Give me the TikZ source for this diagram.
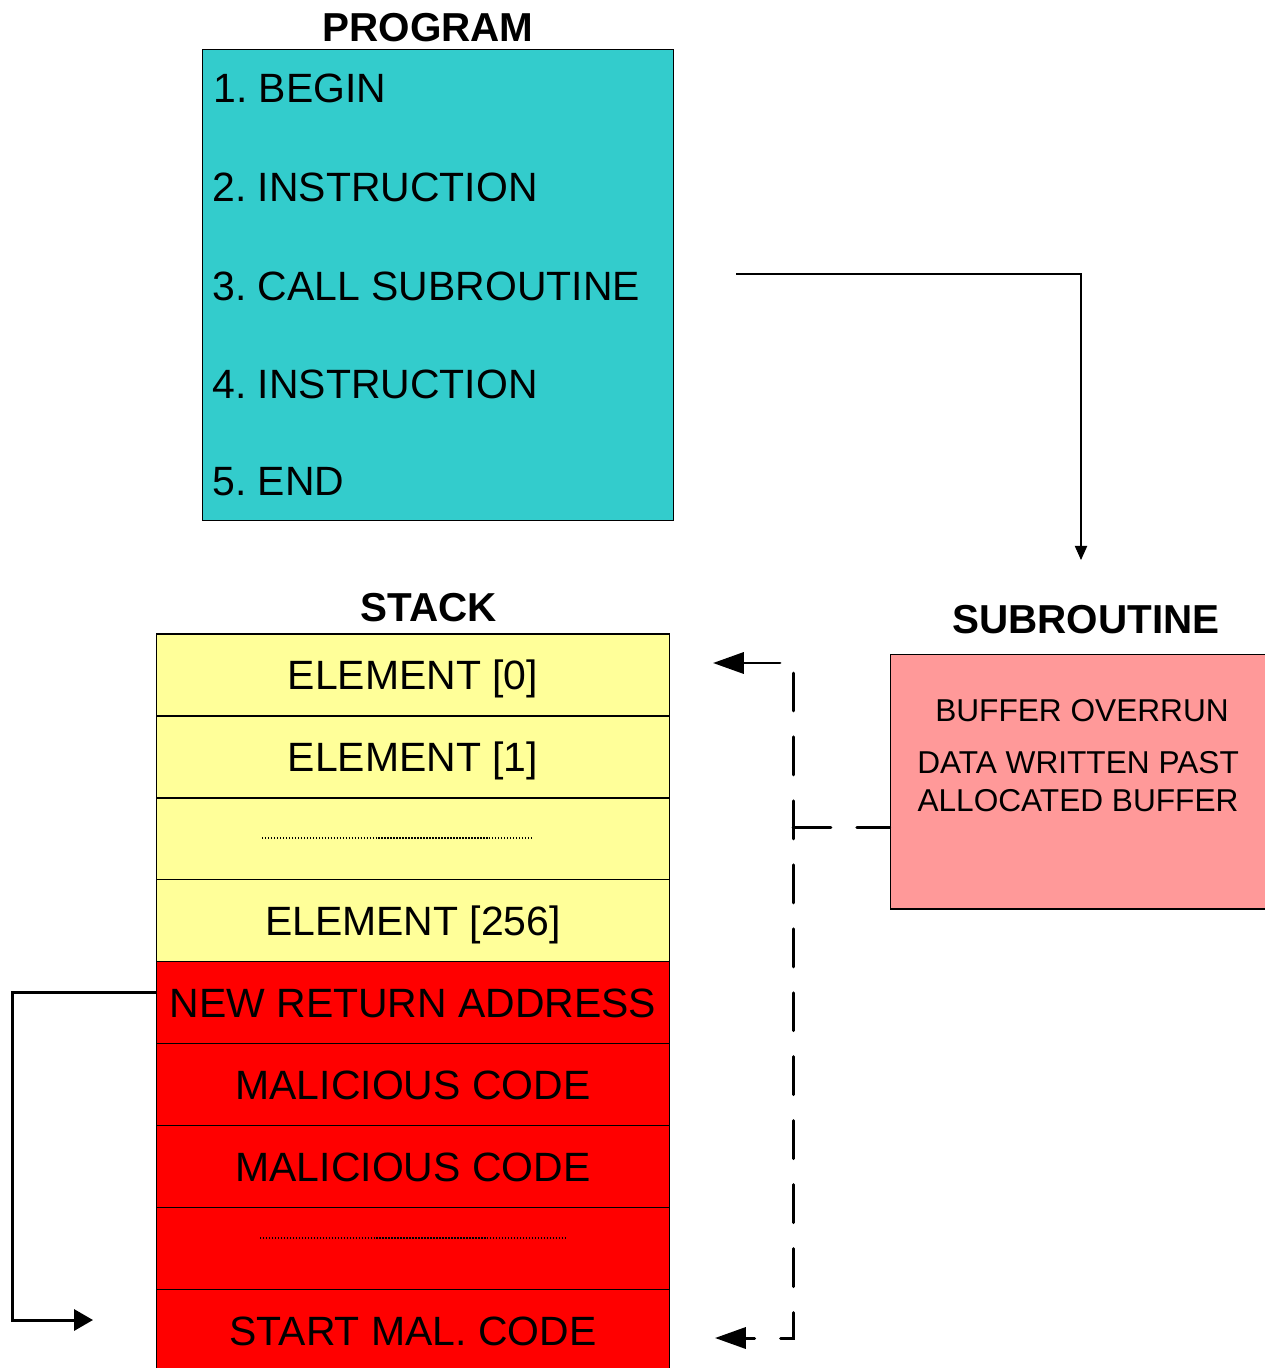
\documentclass[tikz,border=0pt]{standalone}
\usepackage{fontspec}
\setmainfont{Liberation Sans}
\usetikzlibrary{positioning,arrows.meta}
\frenchspacing

\definecolor{progcyan}{HTML}{33CCCC}
\definecolor{elemyellow}{HTML}{FFFF99}
\definecolor{malred}{HTML}{FF0000}
\definecolor{subpink}{HTML}{FF9999}

\tikzset{
  bigtext/.style={font=\fontsize{23.3}{28}\selectfont},
  heading/.style={font=\fontsize{23}{28}\selectfont\bfseries, anchor=base, inner sep=0pt},
  progline/.style={bigtext, anchor=base west, inner sep=0pt},
  cell/.style={draw, line width=0.6pt, outer sep=0pt, inner sep=0pt,
    minimum width=10.28cm, minimum height=1.64cm,
    bigtext, text height=16.7pt, text depth=0pt},
  elem/.style={cell, fill=elemyellow},
  mal/.style={cell, fill=malred},
  subtext/.style={font=\fontsize{18}{21.6}\selectfont, anchor=base, inner sep=0pt},
  dotline/.style={line width=0.6pt, dash pattern=on 0.85pt off 0.85pt},
  dashlink/.style={line width=1.7pt, line cap=round, dash pattern=on 21.6pt off 14.8pt},
  bigtip/.style={-{Triangle[length=17.5pt,width=12pt]}},
}

\begin{document}
\begin{tikzpicture}[x=0.02cm, y=-0.02cm]
  \useasboundingbox (0,0) rectangle (1264,1368);

  % the program
  \node[heading] (progtitle) at (428,41.5) {PROGRAM};
  \node[draw, fill=progcyan, line width=0.6pt, inner sep=0pt,
        minimum width=9.44cm, minimum height=9.44cm] (prog) at (438,285) {};
  \node[progline] (p1) at (213,102.5) {1. BEGIN};
  \node[progline] (p2) at (212,201.5) {2. INSTRUCTION};
  \node[progline] (p3) at (212,300.5) {3. CALL SUBROUTINE};
  \node[progline] (p4) at (212,398.5) {4. INSTRUCTION};
  \node[progline] (p5) at (212,495.5) {5. END};

  % the stack
  \node[heading] (stacktitle) at (429,621.5) {STACK};
  \node[elem] (e0) at (413,675) {ELEMENT [0]};
  \node[elem, below=0pt of e0] (e1) {ELEMENT [1]};
  \node[elem, below=0pt of e1] (e2) {};
  \node[elem, below=0pt of e2] (e256) {ELEMENT [256]};
  \node[mal, below=0pt of e256] (nra) {NEW RETURN ADDRESS};
  \node[mal, below=0pt of nra] (m1) {MALICIOUS CODE};
  \node[mal, below=0pt of m1] (m2) {MALICIOUS CODE};
  \node[mal, below=0pt of m2] (m3) {};
  \node[mal, below=0pt of m3] (smc) {START MAL. CODE};
  \draw[dotline] (262,838) -- (531,838);
  \draw[dotline] (260,1238) -- (566,1238);

  % the subroutine
  \node[heading] (subtitle) at (1086,633.5) {SUBROUTINE};
  \node[draw, fill=subpink, line width=0.6pt, inner sep=0pt,
        minimum width=7.7cm, minimum height=5.1cm] (sub) at (1082.5,781.5) {};
  \node[subtext] (s1) at (1082,721) {BUFFER OVERRUN};
  \node[subtext] (s2) at (1078,773.3) {DATA WRITTEN PAST};
  \node[subtext] (s3) at (1078,811.3) {ALLOCATED BUFFER};

  % call into the subroutine
  \coordinate (callout) at (736,274);
  \coordinate (subin) at (1081,560);
  \draw[line width=0.6pt, -{Triangle[length=8pt,width=7pt]}] (callout) -| (subin);

  % overrun across the stack
  \coordinate (jn) at (793,827);
  \coordinate (dtop) at (793,673);
  \coordinate (tailtop) at (780,663);
  \coordinate (toptip) at (713,663);
  \coordinate (bottip) at (715,1338);
  \draw[dashlink] (jn) -- (sub.west |- jn);
  \draw[dashlink, bigtip] (dtop) |- (bottip);
  \draw[line width=1.7pt, line cap=round, bigtip] (tailtop) -- (toptip);

  % jump to the malicious code
  \coordinate (retin) at (93,1320);
  \draw[line width=1.7pt, -{Triangle[length=10.8pt,width=12pt]}]
    ([yshift=5.7pt]nra.west) -- ++(-144,0) |- (retin);
\end{tikzpicture}
\end{document}
